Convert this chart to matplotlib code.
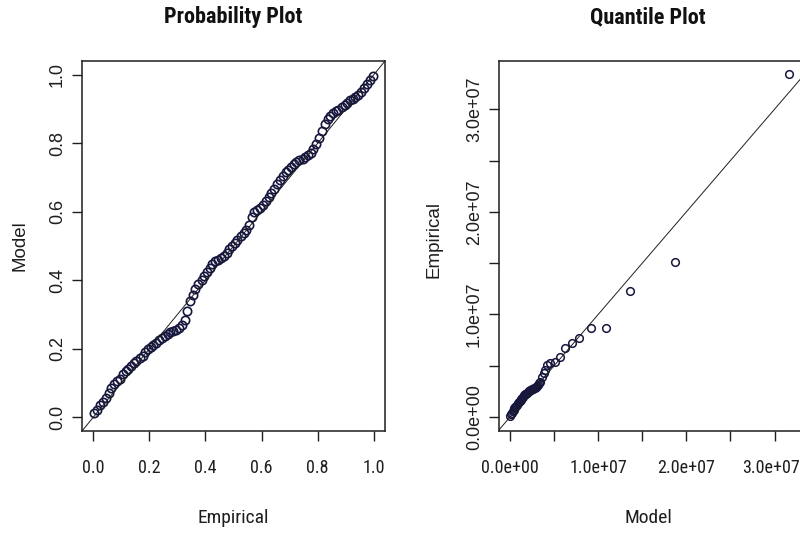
import matplotlib.pyplot as plt
from matplotlib.transforms import ScaledTranslation

# probability plot: empirical cdf vs model cdf
prob_empirical = [
    0.004, 0.013, 0.024, 0.035, 0.046, 0.055, 0.064, 0.075, 0.086, 0.094,
    0.105, 0.116, 0.124, 0.135, 0.146, 0.154, 0.165, 0.176, 0.184, 0.195,
    0.206, 0.214, 0.225, 0.236, 0.244, 0.255, 0.266, 0.274, 0.285, 0.296,
    0.304, 0.315, 0.326, 0.334, 0.345, 0.356, 0.364, 0.375, 0.386, 0.394,
    0.405, 0.416, 0.424, 0.435, 0.446, 0.454, 0.465, 0.476, 0.484, 0.495,
    0.506, 0.514, 0.525, 0.536, 0.544, 0.555, 0.566, 0.574, 0.585, 0.596,
    0.604, 0.615, 0.626, 0.634, 0.645, 0.656, 0.664, 0.675, 0.686, 0.694,
    0.705, 0.716, 0.724, 0.735, 0.746, 0.754, 0.765, 0.776, 0.784, 0.795,
    0.806, 0.814, 0.825, 0.836, 0.844, 0.855, 0.866, 0.874, 0.885, 0.896,
    0.904, 0.915, 0.926, 0.934, 0.945, 0.956, 0.964, 0.975, 0.986, 0.996,
]
prob_model = [
    0.012, 0.022, 0.035, 0.045, 0.055, 0.070, 0.085, 0.098, 0.107, 0.113,
    0.125, 0.134, 0.142, 0.150, 0.158, 0.165, 0.172, 0.180, 0.190, 0.198,
    0.205, 0.211, 0.218, 0.225, 0.232, 0.238, 0.243, 0.248, 0.252, 0.256,
    0.262, 0.270, 0.285, 0.310, 0.340, 0.358, 0.375, 0.390, 0.400, 0.412,
    0.425, 0.437, 0.448, 0.455, 0.460, 0.466, 0.472, 0.480, 0.490, 0.500,
    0.508, 0.518, 0.528, 0.538, 0.548, 0.560, 0.585, 0.598, 0.605, 0.610,
    0.620, 0.630, 0.642, 0.655, 0.665, 0.680, 0.692, 0.705, 0.715, 0.722,
    0.730, 0.738, 0.745, 0.750, 0.755, 0.760, 0.767, 0.772, 0.782, 0.798,
    0.815, 0.835, 0.855, 0.870, 0.880, 0.887, 0.893, 0.898, 0.905, 0.912,
    0.918, 0.925, 0.930, 0.935, 0.942, 0.950, 0.960, 0.972, 0.985, 0.997,
]

# quantile plot, values in units of 1e7
qq_model = [
    0.00, 0.01, 0.02, 0.03, 0.04, 0.05, 0.06, 0.07, 0.08, 0.09,
    0.10, 0.11, 0.12, 0.13, 0.14, 0.15, 0.16, 0.17, 0.18, 0.19,
    0.20, 0.21, 0.22, 0.23, 0.24, 0.25, 0.26, 0.27, 0.28, 0.29,
    0.30, 0.31, 0.32, 0.33,
    0.34, 0.36, 0.38, 0.40, 0.415, 0.453, 0.51, 0.566, 0.62, 0.70,
    0.785, 0.917, 1.087, 1.36, 1.87, 3.16,
]
qq_empirical = [
    0.01, 0.03, 0.04, 0.06, 0.07, 0.09, 0.10, 0.11, 0.12, 0.14,
    0.15, 0.16, 0.17, 0.18, 0.19, 0.20, 0.21, 0.22, 0.22, 0.23,
    0.24, 0.25, 0.25, 0.26, 0.26, 0.27, 0.27, 0.28, 0.28, 0.29,
    0.29, 0.30, 0.31, 0.33,
    0.344, 0.392, 0.43, 0.458, 0.506, 0.523, 0.54, 0.587, 0.67, 0.72,
    0.766, 0.864, 0.864, 1.23, 1.51, 3.34,
]
scale = 1e7

prob_ticks = [0.0, 0.2, 0.4, 0.6, 0.8, 1.0]
prob_labels = ['0.0', '0.2', '0.4', '0.6', '0.8', '1.0']
qq_ticks = [0, 0.5, 1.0, 1.5, 2.0, 2.5, 3.0]
qq_labels = ['0.0e+00', '', '1.0e+07', '', '2.0e+07', '', '3.0e+07']

pt_color = '#16163e'
ink = '#1e1e1e'
narrow = ['Roboto Condensed', 'Liberation Sans', 'DejaVu Sans']
regular = ['Liberation Sans', 'DejaVu Sans']

W, H = 800, 533
fig = plt.figure(figsize=(W / 100, H / 100), dpi=100)
ax1 = fig.add_axes([82 / W, (H - 431) / H, 303 / W, 370 / H])
ax2 = fig.add_axes([499 / W, (H - 431) / H, 302 / W, 370 / H])

ax1.plot(prob_empirical, prob_model, 'o', mfc='none', mec=pt_color,
         ms=6, mew=1.2)
ax1.axline((0, 0), (1, 1), color=ink, lw=0.7)
ax1.set_xlim(-0.04, 1.04)
ax1.set_ylim(-0.04, 1.04)
ax1.set_xticks(prob_ticks)
ax1.set_xticklabels(prob_labels)
ax1.set_yticks(prob_ticks)
ax1.set_yticklabels(prob_labels)

qx = [v * scale for v in qq_model]
qy = [v * scale for v in qq_empirical]
ax2.plot(qx, qy, 'o', mfc='none', mec=pt_color, ms=5.5, mew=1.1)
ax2.axline((0, 0), (scale, scale), color=ink, lw=0.7)
ax2.set_xlim(-0.125 * scale, 3.30 * scale)
ax2.set_ylim(-0.136 * scale, 3.47 * scale)
ax2.set_xticks([t * scale for t in qq_ticks])
ax2.set_xticklabels(qq_labels)
ax2.set_yticks([t * scale for t in qq_ticks])
ax2.set_yticklabels(qq_labels)

for ax in (ax1, ax2):
    for s in ax.spines.values():
        s.set_linewidth(1.1)
        s.set_color(ink)
    ax.tick_params(direction='out', length=7.5, width=1.0, color=ink)
    ax.tick_params(axis='x', pad=13)
    ax.tick_params(axis='y', pad=4)
    for lab in ax.get_xticklabels():
        lab.set_family(narrow)
        lab.set_fontsize(13)
        lab.set_color(ink)
    for lab in ax.get_yticklabels():
        lab.set_family(regular)
        lab.set_fontsize(13)
        lab.set_color(ink)
        lab.set_rotation(90)
        lab.set_verticalalignment('center')

# last label sits right at the figure edge, nudge it in a little
last = ax2.xaxis.get_major_ticks()[-1].label1
last.set_transform(last.get_transform()
                   + ScaledTranslation(-4 / 100, 0, fig.dpi_scale_trans))

def fx(px):
    return px / W

def fy(py):
    return (H - py) / H

fig.text(fx(233), fy(23), 'Probability Plot', ha='center', va='baseline',
         family=narrow, weight='bold', fontsize=16, color='#111')
fig.text(fx(648), fy(23), 'Quantile Plot', ha='center', va='baseline',
         family=narrow, weight='bold', fontsize=16, color='#111')
fig.text(fx(233), fy(523), 'Empirical', ha='center', va='baseline',
         family=narrow, fontsize=14, color=ink)
fig.text(fx(648), fy(523), 'Model', ha='center', va='baseline',
         family=narrow, fontsize=14, color=ink)
fig.text(fx(20), fy(246), 'Model', ha='center', va='center', rotation=90,
         family=regular, fontsize=13.5, color=ink)
fig.text(fx(434), fy(240), 'Empirical', ha='center', va='center', rotation=90,
         family=regular, fontsize=13.5, color=ink)

fig.savefig('out.png', dpi=100)
